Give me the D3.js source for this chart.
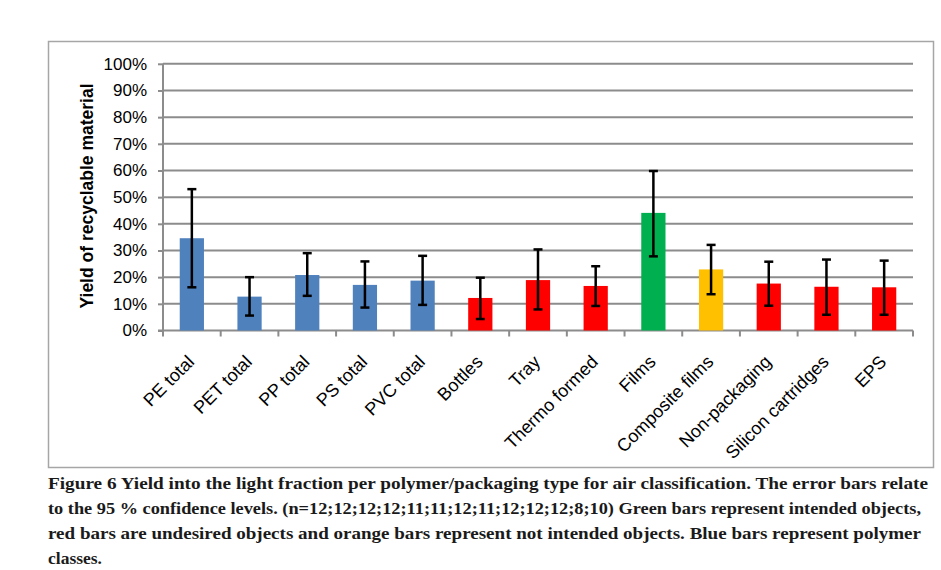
<!DOCTYPE html>
<html>
<head>
<meta charset="utf-8">
<script src="https://cdn.jsdelivr.net/npm/d3@7"></script>
<style>
  body { margin: 0; background: #fff; }
  svg { display: block; }
</style>
</head>
<body>
<div id="chart"></div>
<script>
// values (fractions of 1)
const categories = ['PE total', 'PET total', 'PP total', 'PS total', 'PVC total', 'Bottles', 'Tray',
  'Thermo formed', 'Films', 'Composite films', 'Non-packaging', 'Silicon cartridges', 'EPS'];
const yieldValues = [0.346, 0.127, 0.208, 0.171, 0.187, 0.122, 0.189, 0.167, 0.441, 0.229, 0.176, 0.164, 0.162];
const errHigh = [0.530, 0.200, 0.290, 0.259, 0.280, 0.198, 0.304, 0.241, 0.598, 0.321, 0.258, 0.266, 0.262];
const errLow = [0.162, 0.056, 0.130, 0.086, 0.096, 0.043, 0.079, 0.092, 0.278, 0.136, 0.093, 0.059, 0.059];
const barGroup = ['polymer', 'polymer', 'polymer', 'polymer', 'polymer', 'undesired', 'undesired',
  'undesired', 'intended', 'notIntended', 'undesired', 'undesired', 'undesired'];
const yTicks = [0, 0.1, 0.2, 0.3, 0.4, 0.5, 0.6, 0.7, 0.8, 0.9, 1.0];
const captionLines = [
  'Figure 6 Yield into the light fraction per polymer/packaging type for air classification. The error bars relate',
  'to the 95 % confidence levels. (n=12;12;12;12;11;11;12;11;12;12;12;8;10) Green bars represent intended objects,',
  'red bars are undesired objects and orange bars represent not intended objects. Blue bars represent polymer',
  'classes.'
];
const captionWidths = [880, 873, 873, null];

const colors = { polymer: '#4f81bd', undesired: '#ff0000', intended: '#00b050', notIntended: '#ffc000' };

const width = 941, height = 570;
const svg = d3.select('#chart')
  .append('svg')
  .attr('width', width)
  .attr('height', height);

// chart frame
svg.append('rect')
  .attr('x', 48.5)
  .attr('y', 41.5)
  .attr('width', 885)
  .attr('height', 426)
  .style('fill', '#fff')
  .style('stroke', '#a6a6a6')
  .style('stroke-width', 1.5);

const plot = { left: 163, right: 913, top: 63.8, bottom: 330.5 };

const x = d3.scaleBand()
  .domain(categories)
  .range([plot.left, plot.right])
  .paddingInner(0.58)
  .paddingOuter(0.29);

const xEdge = d3.scaleLinear()
  .domain([0, categories.length])
  .range([plot.left, plot.right]);

const y = d3.scaleLinear()
  .domain([0, 1])
  .range([plot.bottom, plot.top]);

const font = '"Liberation Sans", Arial, sans-serif';

// y labels and outside ticks
const yAxis = svg.append('g')
  .attr('transform', `translate(${plot.left},0)`)
  .call(d3.axisLeft(y).tickValues(yTicks).tickFormat(d3.format('.0%')).tickSize(5).tickPadding(11));
yAxis.select('.domain').remove();
yAxis.selectAll('.tick line').attr('stroke', '#8c8c8c').attr('stroke-width', 2);
yAxis.selectAll('.tick text')
  .attr('font-family', font)
  .attr('font-size', '17px')
  .attr('fill', '#000');

// gridlines
svg.append('g')
  .selectAll('line')
  .data(yTicks.filter(d => d > 0))
  .join('line')
  .attr('x1', plot.left)
  .attr('x2', plot.right)
  .attr('y1', d => y(d))
  .attr('y2', d => y(d))
  .attr('stroke', '#8c8c8c')
  .attr('stroke-width', 2);

// y axis line
svg.append('line')
  .attr('x1', plot.left).attr('x2', plot.left)
  .attr('y1', plot.top).attr('y2', plot.bottom)
  .attr('stroke', '#8c8c8c').attr('stroke-width', 2);

// x axis line + ticks between categories
svg.append('line')
  .attr('x1', plot.left - 5).attr('x2', plot.right)
  .attr('y1', plot.bottom).attr('y2', plot.bottom)
  .attr('stroke', '#8c8c8c').attr('stroke-width', 2);

svg.append('g')
  .selectAll('line')
  .data(d3.range(categories.length + 1))
  .join('line')
  .attr('x1', d => xEdge(d))
  .attr('x2', d => xEdge(d))
  .attr('y1', plot.bottom)
  .attr('y2', plot.bottom + 6)
  .attr('stroke', '#8c8c8c')
  .attr('stroke-width', 2);

// bars
svg.append('g')
  .selectAll('rect')
  .data(categories)
  .join('rect')
  .attr('x', d => x(d))
  .attr('y', (d, i) => y(yieldValues[i]))
  .attr('width', x.bandwidth())
  .attr('height', (d, i) => y(0) - y(yieldValues[i]))
  .style('fill', (d, i) => colors[barGroup[i]]);

// error bars
const err = svg.append('g')
  .selectAll('g')
  .data(categories)
  .join('g')
  .attr('transform', d => `translate(${x(d) + x.bandwidth() / 2},0)`);

err.append('line')
  .attr('y1', (d, i) => y(errHigh[i]))
  .attr('y2', (d, i) => y(errLow[i]))
  .attr('stroke', '#000')
  .attr('stroke-width', 2.5);

err.append('line')
  .attr('x1', -4.5).attr('x2', 4.5)
  .attr('y1', (d, i) => y(errHigh[i]))
  .attr('y2', (d, i) => y(errHigh[i]))
  .attr('stroke', '#000')
  .attr('stroke-width', 2.5);

err.append('line')
  .attr('x1', -4.5).attr('x2', 4.5)
  .attr('y1', (d, i) => y(errLow[i]))
  .attr('y2', (d, i) => y(errLow[i]))
  .attr('stroke', '#000')
  .attr('stroke-width', 2.5);

// x labels, rotated
svg.append('g')
  .selectAll('text')
  .data(categories)
  .join('text')
  .text(d => d)
  .attr('font-family', font)
  .attr('font-size', '18px')
  .attr('text-anchor', 'end')
  .attr('transform', d => `translate(${x(d) + x.bandwidth() / 2 - 1},${plot.bottom + 28}) rotate(-45)`)
  .attr('dy', '0.35em');

// y title
svg.append('text')
  .text('Yield of recyclable material')
  .attr('font-family', font)
  .attr('font-size', '17.5px')
  .attr('font-weight', 'bold')
  .attr('text-anchor', 'middle')
  .attr('transform', 'translate(93,196) rotate(-90)');

// caption
svg.append('g')
  .selectAll('text')
  .data(captionLines)
  .join('text')
  .text(d => d)
  .attr('x', 48)
  .attr('y', (d, i) => 489 + i * 25)
  .attr('font-family', '"Liberation Serif", "Times New Roman", serif')
  .attr('font-weight', 'bold')
  .attr('font-size', '17.5px')
  .attr('fill', '#1a1a1a')
  .each(function (d, i) {
    if (captionWidths[i]) {
      d3.select(this)
        .attr('textLength', captionWidths[i])
        .attr('lengthAdjust', 'spacingAndGlyphs');
    }
  });
</script>
</body>
</html>
